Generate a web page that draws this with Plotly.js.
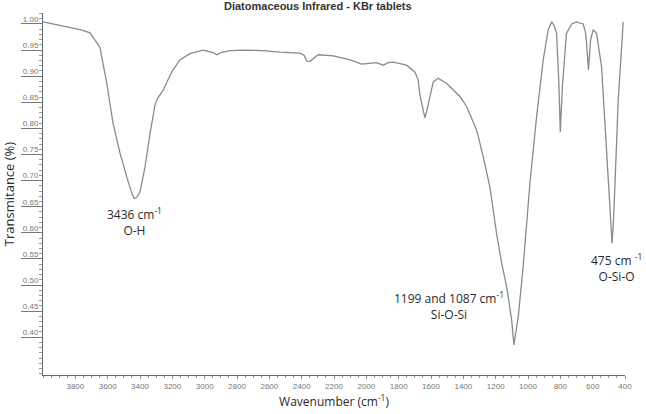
<!DOCTYPE html>
<html>
<head>
<meta charset="utf-8">
<script src="https://cdn.plot.ly/plotly-3.0.1.min.js"></script>
<style>html,body{margin:0;padding:0;background:#fff;}#chart{width:646px;height:414px;}</style>
</head>
<body>
<div id="chart"></div>
<script>
// Wavenumber (cm-1) and transmittance
const wavenumber = [4000, 3900, 3771, 3709, 3668, 3647, 3637, 3606, 3567, 3524, 3482, 3451, 3436, 3420, 3400, 3369, 3338, 3307, 3290, 3257, 3235, 3200, 3153, 3091, 3010, 2947, 2926, 2900, 2843, 2750, 2640, 2534, 2410, 2385, 2369, 2349, 2328, 2297, 2205, 2101, 2029, 1978, 1937, 1895, 1865, 1834, 1751, 1700, 1679, 1669, 1650, 1638, 1625, 1607, 1586, 1555, 1503, 1421, 1380, 1318, 1277, 1236, 1205, 1199, 1194, 1163, 1132, 1101, 1087, 1075, 1060, 1030, 988, 947, 906, 875, 854, 840, 823, 809, 800, 792, 786, 762, 730, 700, 659, 645, 638, 626, 613, 597, 576, 545, 514, 490, 480, 470, 463, 442, 411];
const transmittance = [1.004, 0.997, 0.989, 0.983, 0.966, 0.955, 0.937, 0.887, 0.81, 0.753, 0.707, 0.676, 0.666, 0.668, 0.678, 0.726, 0.79, 0.845, 0.858, 0.873, 0.888, 0.91, 0.931, 0.943, 0.95, 0.945, 0.941, 0.945, 0.949, 0.95, 0.949, 0.946, 0.944, 0.94, 0.929, 0.928, 0.934, 0.941, 0.939, 0.931, 0.923, 0.925, 0.926, 0.921, 0.926, 0.927, 0.921, 0.908, 0.893, 0.865, 0.835, 0.82, 0.835, 0.861, 0.889, 0.896, 0.886, 0.861, 0.842, 0.797, 0.746, 0.688, 0.617, 0.604, 0.598, 0.542, 0.497, 0.433, 0.385, 0.41, 0.44, 0.535, 0.695, 0.822, 0.931, 0.989, 1.004, 0.998, 0.982, 0.886, 0.793, 0.85, 0.886, 0.982, 1.0, 1.004, 1.0, 0.985, 0.965, 0.912, 0.969, 0.989, 0.982, 0.918, 0.759, 0.62, 0.58, 0.63, 0.695, 0.854, 1.004];

const xTicks = [3800, 3600, 3400, 3200, 3000, 2800, 2600, 2400, 2200, 2000, 1800, 1600, 1400, 1200, 1000, 800, 600, 400];
const yTicks = [0.40, 0.45, 0.50, 0.55, 0.60, 0.65, 0.70, 0.75, 0.80, 0.85, 0.90, 0.95, 1.00];
const yTickText = ["0.40", "0.45", "0.50", "0.55", "0.60", "0.65", "0.70", "0.75", "0.80", "0.85", "0.90", "0.95", "1.00"];

const peakLabels = ["3436 cm<sup>-1</sup><br>O-H", "1199 and 1087 cm<sup>-1</sup><br>Si-O-Si", "475 cm <sup>-1</sup><br>O-Si-O"];
const peakX = [3436, 1489, 450];
const peakY = [0.620, 0.459, 0.532];

const trace = {
  x: wavenumber, y: transmittance, type: 'scatter', mode: 'lines',
  line: {color: '#8a8a8a', width: 1.3}, hoverinfo: 'skip'
};

const annFont = {family: 'Open Sans, sans-serif', size: 12, color: '#2a2a2a'};
const annotations = peakLabels.map((t, i) => ({
  x: peakX[i], y: peakY[i], xref: 'x', yref: 'y', text: t, showarrow: false,
  xanchor: 'center', yanchor: 'middle', align: 'center', font: annFont
}));

const layout = {
  width: 646, height: 414,
  margin: {l: 43, r: 21, t: 13, b: 39},
  paper_bgcolor: '#fff', plot_bgcolor: '#fff',
  showlegend: false,
  title: {text: '<b>Diatomaceous Infrared - KBr tablets</b>', xref: 'container', yref: 'container',
          x: 0.492, y: 0.984, xanchor: 'center', yanchor: 'middle',
          font: {family: 'Liberation Sans, Arial, sans-serif', size: 11, color: '#333'}},
  xaxis: {
    range: [4000, 400], autorange: false, showgrid: false, zeroline: false,
    showline: true, linecolor: '#666', linewidth: 1,
    tickvals: xTicks, ticks: 'outside', ticklen: 3, tickcolor: '#888',
    minor: {dtick: 50, ticks: 'outside', ticklen: 2, tickcolor: '#999'},
    tickfont: {family: 'Liberation Sans, Arial, sans-serif', size: 8, color: '#777'},
    title: {text: 'Wavenumber (cm<sup>-1</sup>)', standoff: 8,
            font: {family: 'Open Sans, sans-serif', size: 12, color: '#2a2a2a'}}
  },
  yaxis: {
    range: [0.3276, 1.021], autorange: false, showgrid: false, zeroline: false,
    showline: true, linecolor: '#666', linewidth: 1,
    tickvals: yTicks, ticktext: yTickText, ticks: 'outside', ticklen: 21, tickcolor: '#777',
    ticklabelstandoff: -19, ticklabelshift: -5,
    minor: {dtick: 0.01, ticks: 'outside', ticklen: 3, tickcolor: '#999'},
    tickfont: {family: 'Liberation Sans, Arial, sans-serif', size: 8, color: '#777'},
    title: {text: 'Transmitance (%)', standoff: 6,
            font: {family: 'Open Sans, sans-serif', size: 13, color: '#2a2a2a'}}
  },
  annotations: annotations
};

Plotly.newPlot('chart', [trace], layout, {staticPlot: true, displayModeBar: false});
</script>
</body>
</html>
